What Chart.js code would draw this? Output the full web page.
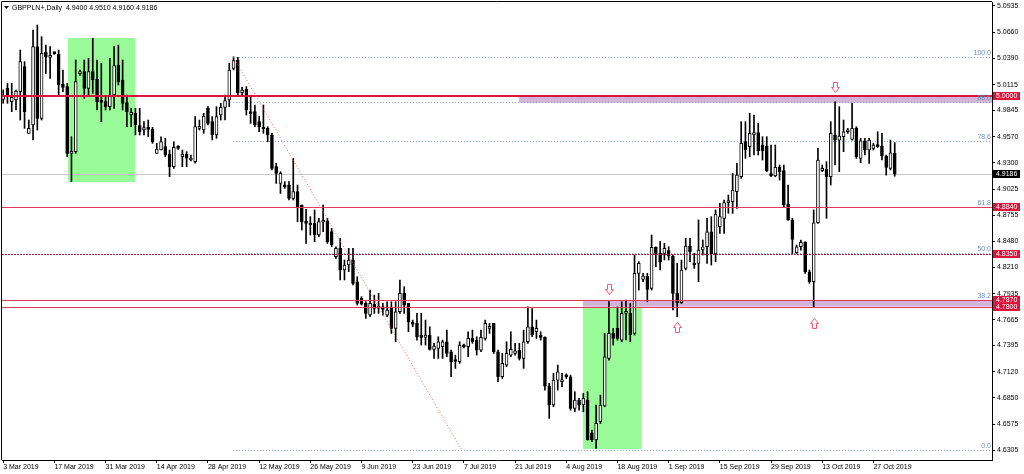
<!DOCTYPE html>
<html>
<head>
<meta charset="utf-8">
<script src="https://cdn.jsdelivr.net/npm/chart.js@4.4.0/dist/chart.umd.min.js"></script>
<style>
  html, body { margin: 0; padding: 0; background: #fff; }
  #wrap { width: 1024px; height: 474px; position: relative; }
</style>
</head>
<body>
<div id="wrap"><canvas id="chart"></canvas></div>
<script>
// GBPPLN+ daily candles, 3 Mar 2019 .. 1 Nov 2019 (one bar per trading day, Sundays included)
var opens = [
  4.9960,5.0076,4.9938,4.9955,5.0042,5.0302,4.9607,4.9694,5.0511,4.9764,
  5.0452,5.0400,5.0445,5.0431,5.0118,5.0094,4.9399,4.9416,5.0226,5.0250,
  5.0076,5.0250,5.0170,4.9938,4.9938,4.9885,5.0007,5.0320,5.0163,4.9927,
  4.9798,4.9816,4.9687,4.9642,4.9666,4.9652,4.9399,4.9433,4.9468,4.9392,
  4.9260,4.9468,4.9364,4.9392,4.9329,4.9312,4.9659,4.9642,4.9868,4.9729,
  4.9590,4.9798,4.9878,4.9955,5.0285,5.0372,5.0031,5.0066,4.9833,4.9833,
  4.9729,4.9670,4.9659,4.9590,4.9260,4.9085,4.9068,4.9068,4.8929,4.8999,
  4.8860,4.8676,4.8669,4.8669,4.8547,4.8680,4.8693,4.8582,4.8321,4.8408,
  4.8182,4.8234,4.8286,4.8060,4.7886,4.7834,4.7713,4.7827,4.7782,4.7799,
  4.7712,4.7782,4.7573,4.7747,4.7938,4.7834,4.7632,4.7625,4.7493,4.7479,
  4.7503,4.7354,4.7364,4.7382,4.7434,4.7330,4.7243,4.7225,4.7394,4.7382,
  4.7469,4.7451,4.7347,4.7469,4.7573,4.7625,4.7330,4.7069,4.7191,4.7295,
  4.7312,4.7347,4.7260,4.7434,4.7590,4.7538,4.7504,4.7479,4.6972,4.6774,
  4.7034,4.7017,4.7080,4.7069,4.6739,4.6826,4.6774,4.6826,4.6485,4.6409,
  4.6600,4.6764,4.7260,4.7521,4.7573,4.7451,4.7730,4.7730,4.7522,4.8147,
  4.8085,4.8120,4.7991,4.8418,4.8356,4.8356,4.8384,4.8328,4.7939,4.7842,
  4.8199,4.8432,4.8252,4.8252,4.8391,4.8425,4.8581,4.8349,4.8634,4.8721,
  4.8884,4.8894,4.8999,4.9155,4.9520,4.9468,4.9590,4.9614,4.9485,4.9475,
  4.9180,4.9162,4.9252,4.9218,4.8870,4.8703,4.8362,4.8425,4.8477,4.8164,
  4.8060,4.8675,4.9218,4.9232,4.9155,4.9590,4.9537,4.9572,4.9624,4.9544,
  4.9659,4.9346,4.9530,4.9433,4.9450,4.9485,4.9475,4.9371,4.9242,4.9400
];
var highs = [
  5.0060,5.0129,5.0129,5.0059,5.0476,5.0355,4.9746,5.0685,5.0737,5.0615,
  5.0528,5.0511,5.0450,5.0476,5.0268,5.0129,4.9572,5.0372,5.0268,5.0372,
  5.0389,5.0598,5.0372,5.0337,4.9990,5.0389,5.0511,5.0528,5.0372,5.0007,
  4.9868,4.9868,4.9868,4.9729,4.9746,4.9670,4.9503,4.9572,4.9555,4.9433,
  4.9520,4.9480,4.9433,4.9416,4.9380,4.9781,4.9746,4.9816,4.9885,4.9781,
  4.9885,4.9920,5.0007,5.0337,5.0405,5.0400,5.0090,5.0094,4.9990,4.9903,
  4.9781,4.9903,4.9676,4.9607,4.9294,4.9207,4.9103,4.9103,4.9346,4.9068,
  4.8860,4.8815,4.8738,4.8808,4.8721,4.8860,4.8721,4.8616,4.8425,4.8512,
  4.8286,4.8408,4.8408,4.8112,4.7904,4.7852,4.7973,4.7921,4.7938,4.7834,
  4.7851,4.7851,4.7851,4.8077,4.8008,4.7834,4.7660,4.7730,4.7730,4.7660,
  4.7590,4.7417,4.7486,4.7451,4.7556,4.7347,4.7295,4.7434,4.7410,4.7538,
  4.7556,4.7486,4.7556,4.7660,4.7625,4.7625,4.7347,4.7312,4.7434,4.7538,
  4.7417,4.7417,4.7556,4.7798,4.7781,4.7660,4.7538,4.7486,4.7000,4.7104,
  4.7191,4.7104,4.7100,4.7086,4.6913,4.6843,4.6895,4.6913,4.6513,4.6774,
  4.6878,4.7521,4.7852,4.7573,4.7798,4.7851,4.7869,4.7834,4.8338,4.8269,
  4.8147,4.8147,4.8547,4.8425,4.8478,4.8460,4.8425,4.8338,4.8252,4.8286,
  4.8512,4.8512,4.8356,4.8704,4.8495,4.8721,4.8738,4.8808,4.8877,4.8912,
  4.8964,4.9190,4.9294,4.9729,4.9729,4.9816,4.9798,4.9711,4.9572,4.9572,
  4.9485,4.9485,4.9277,4.9277,4.9068,4.8721,4.8442,4.8494,4.8477,4.8182,
  4.8808,4.9451,4.9277,4.9311,4.9729,4.9937,4.9885,4.9746,4.9659,4.9920,
  4.9676,4.9555,4.9555,4.9555,4.9503,4.9624,4.9607,4.9381,4.9537,4.9510
];
var lows = [
  4.9920,4.9920,4.9833,4.9851,4.9746,4.9659,4.9607,4.9538,4.9642,4.9746,
  5.0233,5.0180,5.0430,5.0007,5.0042,4.9364,4.9103,4.9399,5.0210,4.9972,
  4.9990,5.0024,4.9851,4.9729,4.9851,4.9851,4.9868,5.0111,4.9851,4.9677,
  4.9677,4.9590,4.9590,4.9590,4.9572,4.9503,4.9399,4.9433,4.9364,4.9155,
  4.9242,4.9440,4.9260,4.9260,4.9320,4.9295,4.9642,4.9607,4.9694,4.9538,
  4.9555,4.9746,4.9746,4.9885,5.0268,5.0007,5.0000,4.9798,4.9711,4.9677,
  4.9625,4.9607,4.9520,4.9225,4.9085,4.8981,4.9033,4.8912,4.8912,4.8686,
  4.8599,4.8460,4.8547,4.8477,4.8530,4.8582,4.8460,4.8425,4.8304,4.8078,
  4.8078,4.8165,4.8026,4.7817,4.7817,4.7678,4.7695,4.7730,4.7730,4.7712,
  4.7695,4.7521,4.7434,4.7730,4.7730,4.7538,4.7590,4.7451,4.7399,4.7399,
  4.7347,4.7260,4.7260,4.7260,4.7278,4.7069,4.7156,4.7208,4.7370,4.7278,
  4.7417,4.7295,4.7330,4.7451,4.7521,4.7312,4.7017,4.7052,4.7173,4.7278,
  4.7295,4.7243,4.7156,4.7417,4.7486,4.7469,4.7451,4.6930,4.6634,4.6756,
  4.6930,4.6965,4.7050,4.6721,4.6704,4.6721,4.6704,4.6409,4.6391,4.6322,
  4.6582,4.6756,4.7243,4.7399,4.7451,4.7434,4.7452,4.7435,4.7504,4.7973,
  4.8060,4.7852,4.7973,4.8217,4.8182,4.8286,4.8286,4.7765,4.7695,4.7834,
  4.8182,4.8269,4.8199,4.8060,4.8338,4.8251,4.8234,4.8269,4.8564,4.8564,
  4.8773,4.8773,4.8825,4.9138,4.9346,4.9364,4.9381,4.9381,4.9329,4.9207,
  4.9155,4.9155,4.9120,4.8842,4.8703,4.8355,4.8355,4.8390,4.8147,4.8043,
  4.7799,4.8669,4.9208,4.8721,4.9068,4.9277,4.9207,4.9416,4.9607,4.9537,
  4.9346,4.9301,4.9381,4.9294,4.9433,4.9462,4.9329,4.9172,4.9225,4.9160
];
var closes = [
  5.0005,5.0007,4.9983,5.0049,5.0355,4.9833,4.9659,5.0511,4.9764,5.0441,
  5.0407,5.0410,5.0438,5.0111,5.0087,4.9399,4.9420,5.0146,5.0250,5.0076,
  5.0250,5.0163,4.9938,4.9930,4.9885,5.0007,5.0313,5.0146,4.9920,4.9833,
  4.9826,4.9694,4.9625,4.9666,4.9649,4.9520,4.9444,4.9520,4.9381,4.9260,
  4.9461,4.9451,4.9392,4.9347,4.9347,4.9677,4.9677,4.9788,4.9711,4.9590,
  4.9781,4.9878,4.9948,5.0268,5.0365,5.0031,5.0059,4.9851,4.9809,4.9694,
  4.9677,4.9652,4.9590,4.9242,4.9190,4.9190,4.9050,4.8929,4.8999,4.8842,
  4.8686,4.8669,4.8651,4.8547,4.8686,4.8686,4.8477,4.8443,4.8408,4.8182,
  4.8234,4.8286,4.8043,4.7834,4.7827,4.7730,4.7834,4.7782,4.7806,4.7771,
  4.7764,4.7573,4.7747,4.7938,4.7816,4.7643,4.7618,4.7486,4.7479,4.7503,
  4.7354,4.7389,4.7434,4.7434,4.7312,4.7225,4.7228,4.7399,4.7382,4.7469,
  4.7434,4.7347,4.7479,4.7625,4.7590,4.7330,4.7069,4.7208,4.7312,4.7354,
  4.7340,4.7260,4.7434,4.7590,4.7504,4.7573,4.7479,4.6972,4.6774,4.7034,
  4.7121,4.7040,4.7069,4.6739,4.6826,4.6774,4.6843,4.6409,4.6409,4.6582,
  4.6774,4.7278,4.7521,4.7469,4.7469,4.7729,4.7747,4.7504,4.8147,4.8252,
  4.8120,4.7980,4.8418,4.8356,4.8269,4.8408,4.8328,4.7939,4.7842,4.8182,
  4.8432,4.8373,4.8234,4.8391,4.8425,4.8581,4.8349,4.8766,4.8738,4.8884,
  4.8905,4.9016,4.9172,4.9503,4.9433,4.9607,4.9614,4.9426,4.9426,4.9218,
  4.9166,4.9252,4.9207,4.8860,4.8703,4.8502,4.8425,4.8470,4.8164,4.8060,
  4.8675,4.9329,4.9242,4.9155,4.9607,4.9537,4.9579,4.9624,4.9642,4.9659,
  4.9364,4.9530,4.9433,4.9537,4.9485,4.9468,4.9371,4.9252,4.9405,4.9186
];

// axis labels
var xTickBars = [0, 12, 24, 36, 48, 60, 72, 84, 96, 108, 120, 132, 144, 156, 168, 180, 192, 204];
var xTickLabels = ['3 Mar 2019', '17 Mar 2019', '31 Mar 2019', '14 Apr 2019', '28 Apr 2019', '12 May 2019',
  '26 May 2019', '9 Jun 2019', '23 Jun 2019', '7 Jul 2019', '21 Jul 2019', '4 Aug 2019', '18 Aug 2019',
  '1 Sep 2019', '15 Sep 2019', '29 Sep 2019', '13 Oct 2019', '27 Oct 2019'];
var yTickValues = [5.0935, 5.0660, 5.0390, 5.0115, 4.9845, 4.9570, 4.9300, 4.9025, 4.8755,
  4.8480, 4.8210, 4.7935, 4.7665, 4.7395, 4.7120, 4.6850, 4.6575, 4.6305];

// objects drawn on the chart
var levelPrices = [5.0000, 4.8840, 4.8350, 4.7870, 4.7800];
var lastPrice = 4.9186;
var fibLabels = ['0.0', '38.2', '50.0', '61.8', '78.6', '88.6', '100.0'];
var fibPrices = [4.6305, 4.7871, 4.8355, 4.8839, 4.9528, 4.9938, 5.0405];
var fibStartBar = 53.9;
var trendBars = [53.9, 107.5];
var trendPrices = [5.0405, 4.6305];
var greenFromBars = [15.2, 135.9];
var greenToBars = [30.9, 149.7];
var greenTops = [5.0601, 4.7800];
var greenBottoms = [4.9100, 4.6316];
var zoneFromBars = [120.9, 135.9];
var zoneTops = [5.0000, 4.7870];
var zoneBottoms = [4.9925, 4.7800];
var arrowBars = [142, 158, 190, 195];
var arrowPrices = [4.7984, 4.7588, 4.7630, 5.0090];
var arrowDirs = ['down', 'up', 'up', 'down'];

var FONT = '7px "Liberation Sans", Arial, sans-serif';

var wickData = opens.map(function (o, i) { return {x: i, y: [lows[i], highs[i]]}; });
var bodyData = opens.map(function (o, i) {
  return {x: i, y: [Math.min(o, closes[i]), Math.max(o, closes[i])]};
});

function crisp(v) { return Math.round(v) + 0.5; }

var overlay = {
  id: 'overlay',
  beforeDatasetsDraw: function (chart) {
    var ctx = chart.ctx, a = chart.chartArea, xs = chart.scales.x, ys = chart.scales.y;
    ctx.save();
    ctx.beginPath(); ctx.rect(a.left, a.top, a.width, a.height); ctx.clip();

    // green boxes
    ctx.fillStyle = '#98fb98';
    for (var i = 0; i < greenFromBars.length; i++) {
      var x0 = xs.getPixelForValue(greenFromBars[i]), x1 = xs.getPixelForValue(greenToBars[i]);
      var y0 = ys.getPixelForValue(greenTops[i]), y1 = ys.getPixelForValue(greenBottoms[i]);
      ctx.fillRect(x0, y0, x1 - x0, y1 - y0);
    }
    // purple zones
    ctx.fillStyle = '#d2b4d8';
    for (i = 0; i < zoneFromBars.length; i++) {
      var zx = xs.getPixelForValue(zoneFromBars[i]);
      var zy0 = ys.getPixelForValue(zoneTops[i]), zy1 = ys.getPixelForValue(zoneBottoms[i]);
      ctx.fillRect(zx, zy0, a.right - zx, zy1 - zy0);
    }
    // last price line
    ctx.fillStyle = '#c8c8c8';
    ctx.fillRect(a.left, Math.round(ys.getPixelForValue(lastPrice)), a.width, 1);

    // fibo levels
    ctx.strokeStyle = '#8aa6cf'; ctx.lineWidth = 1; ctx.setLineDash([1, 2]);
    var fx = xs.getPixelForValue(fibStartBar);
    fibPrices.forEach(function (p) {
      var y = crisp(ys.getPixelForValue(p));
      ctx.beginPath(); ctx.moveTo(fx, y); ctx.lineTo(a.right, y); ctx.stroke();
    });
    ctx.restore();
  },
  afterDatasetsDraw: function (chart) {
    var ctx = chart.ctx, a = chart.chartArea, xs = chart.scales.x, ys = chart.scales.y;
    ctx.save();
    ctx.beginPath(); ctx.rect(a.left, a.top, a.width, a.height); ctx.clip();

    // horizontal levels
    levelPrices.forEach(function (p, i) {
      var y = Math.round(ys.getPixelForValue(p));
      if (i === 0) {
        ctx.fillStyle = '#dc143c';
        ctx.fillRect(a.left, y - 1, a.width, 2);
      } else if (i === 2) {
        ctx.fillStyle = '#a0203f';
        for (var x = a.left; x < a.right; x += 3) ctx.fillRect(x, y, 2, 1);
      } else {
        ctx.fillStyle = '#e8375c';
        ctx.fillRect(a.left, y, a.width, 1);
      }
    });

    // fibo trend line
    ctx.setLineDash([1, 2]); ctx.strokeStyle = '#ff5a5a'; ctx.lineWidth = 1;
    ctx.beginPath();
    ctx.moveTo(xs.getPixelForValue(trendBars[0]), ys.getPixelForValue(trendPrices[0]));
    ctx.lineTo(xs.getPixelForValue(trendBars[1]), ys.getPixelForValue(trendPrices[1]));
    ctx.stroke();
    ctx.setLineDash([]);

    // fibo labels
    ctx.font = FONT; ctx.fillStyle = '#6f8fc0'; ctx.textAlign = 'right'; ctx.textBaseline = 'bottom';
    fibPrices.forEach(function (p, i) {
      ctx.fillText(fibLabels[i], a.right - 1, Math.round(ys.getPixelForValue(p)));
    });

    // arrows
    ctx.strokeStyle = '#ee5a75'; ctx.fillStyle = '#fff'; ctx.lineWidth = 1;
    arrowBars.forEach(function (b, i) {
      var x = Math.round(xs.getPixelForValue(b)) + 0.5, y = Math.round(ys.getPixelForValue(arrowPrices[i])) + 0.5;
      var s = arrowDirs[i] === 'down' ? 1 : -1;
      ctx.beginPath();
      ctx.moveTo(x - 2, y - 5 * s);
      ctx.lineTo(x + 2, y - 5 * s);
      ctx.lineTo(x + 2, y);
      ctx.lineTo(x + 4, y);
      ctx.lineTo(x, y + 5 * s);
      ctx.lineTo(x - 4, y);
      ctx.lineTo(x - 2, y);
      ctx.closePath();
      ctx.fill(); ctx.stroke();
    });
    ctx.restore();
  },
  afterDraw: function (chart) {
    var ctx = chart.ctx, a = chart.chartArea, ys = chart.scales.y;
    ctx.save();
    // frame
    ctx.strokeStyle = '#000'; ctx.lineWidth = 1;
    ctx.beginPath();
    ctx.moveTo(a.left - 0.5, a.bottom); ctx.lineTo(a.left - 0.5, a.top - 0.5); ctx.lineTo(a.right, a.top - 0.5);
    ctx.stroke();

    // title
    ctx.fillStyle = '#000';
    ctx.beginPath(); ctx.moveTo(a.left + 2, a.top + 4); ctx.lineTo(a.left + 7, a.top + 4); ctx.lineTo(a.left + 4.5, a.top + 7); ctx.closePath(); ctx.fill();
    ctx.font = FONT; ctx.textAlign = 'left'; ctx.textBaseline = 'middle';
    ctx.fillText('GBPPLN+,Daily  ' + [opens[209], highs[209], lows[209], closes[209]].map(function (v) { return v.toFixed(4); }).join(' '),
      a.left + 10, a.top + 6);

    // price boxes on the axis
    function box(p, bg) {
      var y = Math.round(ys.getPixelForValue(p));
      ctx.fillStyle = bg;
      ctx.fillRect(a.right + 1, y - 4, 27, 8);
      ctx.fillStyle = '#fff';
      ctx.fillText(p.toFixed(4), a.right + 4, y + 0.5);
    }
    ctx.textBaseline = 'middle';
    box(lastPrice, '#000');
    [0, 1, 2, 4, 3].forEach(function (i) { box(levelPrices[i], '#dc143c'); });
    ctx.restore();
  }
};

new Chart(document.getElementById('chart'), {
  type: 'bar',
  data: {
    datasets: [
      {
        label: 'body',
        data: bodyData,
        grouped: false,
        barThickness: 3,
        minBarLength: 2,
        borderWidth: 1,
        borderSkipped: false,
        borderColor: '#000',
        backgroundColor: function (c) {
          var i = c.dataIndex;
          return closes[i] >= opens[i] ? '#fff' : '#000';
        },
        order: 0
      },
      {
        label: 'wick',
        data: wickData,
        grouped: false,
        barThickness: 1,
        borderWidth: 0,
        backgroundColor: '#000',
        order: 1
      }
    ]
  },
  options: {
    responsive: true,
    maintainAspectRatio: false,
    animation: false,
    events: [],
    layout: {padding: {left: 2, top: 2, right: 0, bottom: 0}},
    plugins: {legend: {display: false}, tooltip: {enabled: false}, title: {display: false}},
    scales: {
      x: {
        type: 'linear',
        min: -0.281,
        max: 231.8,
        offset: false,
        grid: {offset: false, drawOnChartArea: false, drawTicks: true, tickLength: 3, color: '#000'},
        border: {display: true, color: '#000'},
        ticks: {
          align: 'start', padding: 0, autoSkip: false, maxRotation: 0, color: '#000',
          font: {family: '"Liberation Sans", Arial, sans-serif', size: 7},
          callback: function (v, i) { return xTickLabels[i]; }
        },
        afterBuildTicks: function (s) { s.ticks = xTickBars.map(function (v) { return {value: v}; }); },
        afterFit: function (s) { s.height = 14; s.paddingLeft = 0; s.paddingRight = 0; }
      },
      y: {
        position: 'right',
        min: 4.62009,
        max: 5.09767,
        bounds: 'data',
        beginAtZero: false,
        grid: {drawOnChartArea: false, drawTicks: true, tickLength: 3, color: '#000'},
        border: {display: true, color: '#000'},
        ticks: {
          padding: 2, autoSkip: false, color: '#000',
          font: {family: '"Liberation Sans", Arial, sans-serif', size: 7},
          callback: function (v) { return v.toFixed(4); }
        },
        afterBuildTicks: function (s) { s.ticks = yTickValues.map(function (v) { return {value: v}; }); },
        afterFit: function (s) { s.width = 32; s.paddingTop = 0; s.paddingBottom = 0; }
      }
    }
  },
  plugins: [overlay]
});
</script>
</body>
</html>
